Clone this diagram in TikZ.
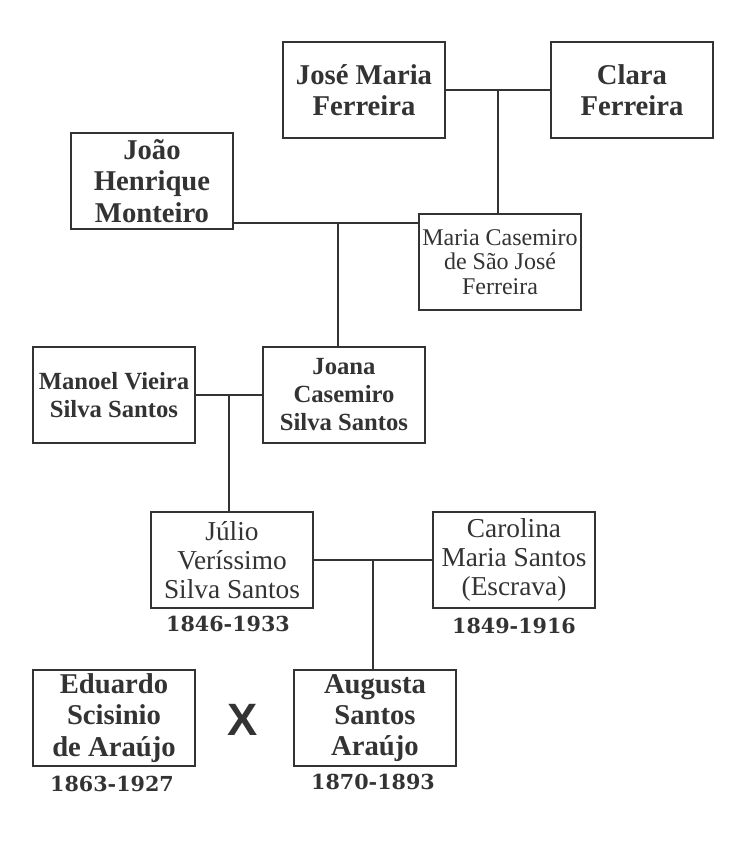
\documentclass[tikz,border=0pt]{standalone}
\usepackage{fontspec}
\setmainfont{Liberation Serif}
\newfontfamily\sansx{Liberation Sans}
\newfontfamily\datefont{DejaVu Serif}
\usepackage{tikz}
\usetikzlibrary{calc}
\definecolor{ink}{HTML}{333333}
\tikzstyle{person} = [draw=ink, line width=1.2pt, rectangle, text=ink,
minimum width=121.5pt, minimum height=72pt, align=center, inner sep=0pt]
\tikzstyle{big} = [person, font=\bfseries\fontsize{21.5}{23.5}\selectfont]
\tikzstyle{mid} = [person, font=\bfseries\fontsize{18.5}{21}\selectfont]
\tikzstyle{small} = [person, font=\fontsize{18}{18.5}\selectfont]
\tikzstyle{plain} = [person, font=\fontsize{20.5}{22}\selectfont]
\tikzstyle{years} = [text=ink, inner sep=0pt, anchor=north,
font=\datefont\bfseries\fontsize{15.5}{18}\selectfont]
\tikzstyle{link} = [draw=ink, line width=1.2pt]

\begin{document}
\begin{tikzpicture}[x=0.75pt,y=-0.75pt]
      \useasboundingbox (0,0) rectangle (744,851);
      % grandparents
      \node [big] (jose) at (364,90) {José Maria\\Ferreira};
      \node [big] (clara) at (632,90) {Clara\\Ferreira};
      \node [big] (joao) at (152,181) {João\\Henrique\\Monteiro};
      \node [small] (maria) at (500,262) {Maria Casemiro\\de São José\\Ferreira};
      % parents
      \node [mid] (manoel) at (114,395) {Manoel Vieira\\Silva Santos};
      \node [mid] (joana) at (344,395) {Joana\\Casemiro\\Silva Santos};
      \node [plain] (julio) at (232,560) {Júlio\\Veríssimo\\Silva Santos};
      \node [plain] (carolina) at (514,560) {Carolina\\Maria Santos\\(Escrava)};
      % couple
      \node [big] (eduardo) at (114,718) {Eduardo\\Scisinio\\de Araújo};
      \node [big] (augusta) at (375,718) {Augusta\\Santos\\Araújo};
      \node [text=ink, font=\sansx\bfseries\fontsize{34}{34}\selectfont] (cross) at (243,720) {X};
      \node [years] (dj) at ($(julio.south)+(-4,7)$) {1846-1933};
      \node [years] (dc) at ($(carolina.south)+(0,9)$) {1849-1916};
      \node [years] (de) at ($(eduardo.south)+(-2,9)$) {1863-1927};
      \node [years] (da) at ($(augusta.south)+(-2,7)$) {1870-1893};
      % links
      \coordinate (m1) at ($(jose.east)!0.5!(clara.west)$);
      \draw [link] (jose.east) -- (clara.west);
      \draw [link] (m1) -- (m1 |- maria.north);
      \coordinate (m2) at (338,223);
      \draw [link] (joao.east |- m2) -- (maria.west |- m2);
      \draw [link] (m2) -- (m2 |- joana.north);
      \coordinate (m3) at ($(manoel.east)!0.5!(joana.west)$);
      \draw [link] (manoel.east) -- (joana.west);
      \draw [link] (m3) -- (m3 |- julio.north);
      \coordinate (m4) at ($(julio.east)!0.5!(carolina.west)$);
      \draw [link] (julio.east) -- (carolina.west);
      \draw [link] (m4) -- (m4 |- augusta.north);
\end{tikzpicture}
\end{document}
